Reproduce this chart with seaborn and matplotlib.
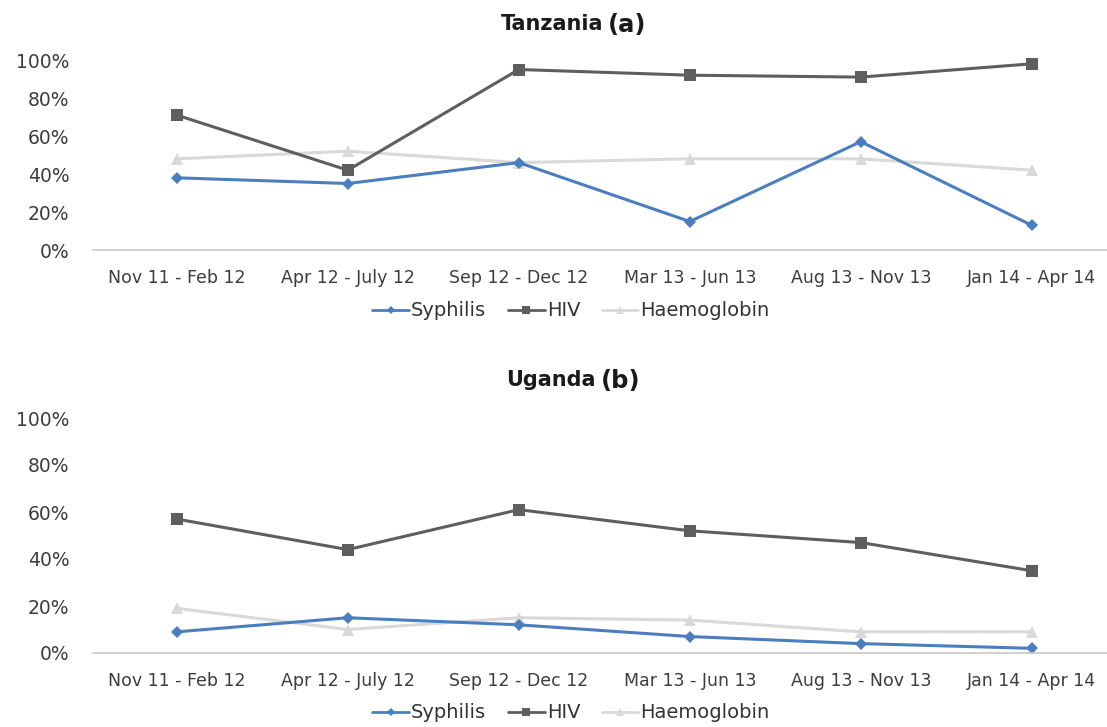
import matplotlib
matplotlib.use("Agg")
import matplotlib.pyplot as plt
import seaborn as sns
import pandas as pd
from matplotlib.lines import Line2D
from matplotlib.ticker import PercentFormatter

periods = ["Nov 11 - Feb 12", "Apr 12 - July 12", "Sep 12 - Dec 12",
           "Mar 13 - Jun 13", "Aug 13 - Nov 13", "Jan 14 - Apr 14"]

tz_syphilis = [38, 35, 46, 15, 57, 13]
tz_hiv = [71, 42, 95, 92, 91, 98]
tz_haemoglobin = [48, 52, 46, 48, 48, 42]

ug_syphilis = [9, 15, 12, 7, 4, 2]
ug_hiv = [57, 44, 61, 52, 47, 35]
ug_haemoglobin = [19, 10, 15, 14, 9, 9]

tests = ["Syphilis", "HIV", "Haemoglobin"]
colors = {"Syphilis": "#4a7ebf", "HIV": "#5e5e5e", "Haemoglobin": "#d9d9d9"}
markers = {"Syphilis": "D", "HIV": "s", "Haemoglobin": "^"}
msizes = {"Syphilis": 6, "HIV": 8, "Haemoglobin": 8}

sns.set_theme(style="white")
plt.rcParams["font.family"] = ["DejaVu Sans"]

W, H = 1107, 727
fig = plt.figure(figsize=(W / 100, H / 100), dpi=100)
TEXT = "#3d3d3d"


def long_frame(syph, hiv, haem):
    rows = []
    for name, vals in zip(tests, [syph, hiv, haem]):
        for i, v in enumerate(vals):
            rows.append({"idx": i, "period": periods[i], "test": name, "value": v})
    return pd.DataFrame(rows)


def panel(rect_px, df, title, letter, title_y, title_x, legend_y):
    left, top, right, bottom = rect_px
    ax = fig.add_axes([left / W, 1 - bottom / H, (right - left) / W, (bottom - top) / H])
    # draw back to front: Haemoglobin, HIV, Syphilis
    for name in ["Haemoglobin", "HIV", "Syphilis"]:
        sub = df[df["test"] == name]
        sns.lineplot(data=sub, x="idx", y="value", ax=ax, color=colors[name],
                     marker=markers[name], markersize=msizes[name],
                     markeredgewidth=0, linewidth=2.2, sort=False,
                     legend=False, clip_on=False)
    ax.set_xlim(-0.49, 5.44)
    ax.set_ylim(0, 100)
    ax.set_yticks([0, 20, 40, 60, 80, 100])
    ax.yaxis.set_major_formatter(PercentFormatter(decimals=0))
    ax.set_xticks(range(len(periods)))
    ax.set_xticklabels(periods)
    ax.set_xlabel("")
    ax.set_ylabel("")
    for s in ["top", "right", "left"]:
        ax.spines[s].set_visible(False)
    ax.spines["bottom"].set_color("#c8c8c8")
    ax.spines["bottom"].set_linewidth(1.2)
    ax.tick_params(axis="both", length=0, labelcolor=TEXT)
    ax.tick_params(axis="x", pad=14, labelsize=12.5)
    ax.tick_params(axis="y", pad=17, labelsize=13.5)
    ax.grid(False)

    fig.text((title_x - 3) / W, 1 - title_y / H, title, ha="right", va="center",
             fontsize=15, fontweight="bold", color="#1a1a1a")
    fig.text((title_x + 2) / W, 1 - (title_y + 1) / H, letter, ha="left", va="center",
             fontsize=17.5, fontweight="bold", color="#1a1a1a")

    handles = [Line2D([], [], color=colors[n], marker=markers[n],
                      markersize=msizes[n] - 2, markeredgewidth=0, linewidth=2)
               for n in tests]
    fig.legend(handles, tests, loc="center", bbox_to_anchor=(571 / W, 1 - legend_y / H),
               ncol=3, frameon=False, handlelength=1.9,
               handletextpad=0.1, columnspacing=1.1,
               prop={"size": 14}, labelcolor="#333333")
    return ax


tz = long_frame(tz_syphilis, tz_hiv, tz_haemoglobin)
ug = long_frame(ug_syphilis, ug_hiv, ug_haemoglobin)

panel((93, 60, 1107, 250), tz, "Tanzania", "(a)", 24, 606, 311)
panel((93, 418, 1107, 653), ug, "Uganda", "(b)", 380, 599, 713)

fig.savefig("out.png", dpi=100, facecolor="white")
